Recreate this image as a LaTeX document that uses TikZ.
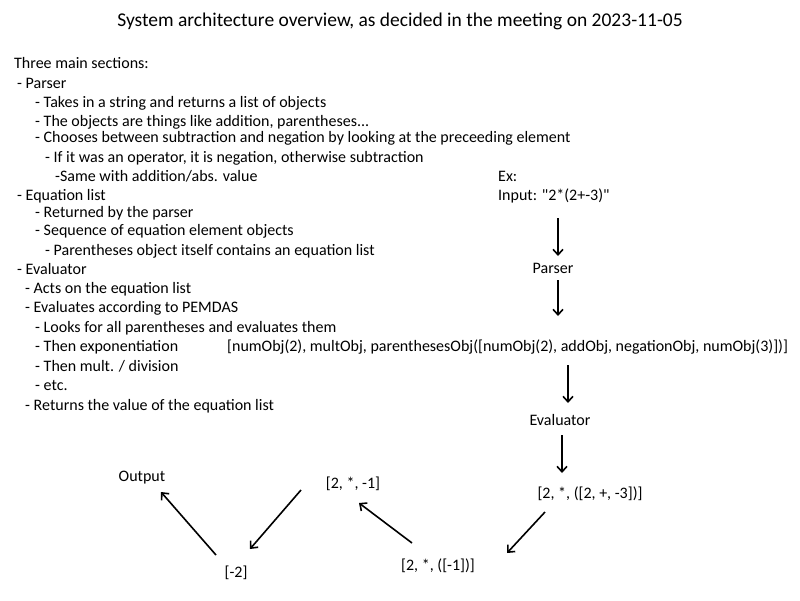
\documentclass[tikz,border=0pt]{standalone}
\usepackage{fontspec}
\setmainfont{Carlito}[Ligatures=TeXOff]
\usetikzlibrary{arrows.meta}
\begin{document}
\begin{tikzpicture}[x=1pt,y=-1pt,
  txt/.style={anchor=base west,inner sep=0pt,font=\fontsize{16}{19}\selectfont},
  ctxt/.style={anchor=base,inner sep=0pt,font=\fontsize{16}{19}\selectfont},
  arr/.style={line width=1.6pt,-{Straight Barb[length=5.5pt,width=10pt,line width=1.6pt]}}]
\useasboundingbox (0,0) rectangle (800,600);
\node[anchor=base,inner sep=0pt,font=\fontsize{19.5}{23}\selectfont] (title) at (400,26) {System architecture overview, as decided in the meeting on 2023-11-05};
% left notes
\node[txt] (l1) at (14,68) {Three main sections:};
\node[txt] (l2) at (17,88) {- Parser};
\node[txt] (l3) at (35,107) {- Takes in a string and returns a list of objects};
\node[txt] (l4) at (35,126) {- The objects are things like addition, parentheses...};
\node[txt] (l5) at (35,142) {- Chooses between subtraction and negation by looking at the preceeding element};
\node[txt] (l6) at (45,162) {- If it was an operator, it is negation, otherwise subtraction};
\node[txt] (l7) at (55,181) {-Same with addition/abs. value};
\node[txt] (l8) at (17,200) {- Equation list};
\node[txt] (l9) at (35,217) {- Returned by the parser};
\node[txt] (l10) at (35,235) {- Sequence of equation element objects};
\node[txt] (l11) at (45,255) {- Parentheses object itself contains an equation list};
\node[txt] (l12) at (17,274) {- Evaluator};
\node[txt] (l13) at (25,293) {- Acts on the equation list};
\node[txt] (l14) at (25,312) {- Evaluates according to PEMDAS};
\node[txt] (l15) at (35,332) {- Looks for all parentheses and evaluates them};
\node[txt] (l16) at (35,351) {- Then exponentiation};
\node[txt] (l17) at (35,371) {- Then mult. / division};
\node[txt] (l18) at (35,390) {- etc.};
\node[txt] (l19) at (25,410) {- Returns the value of the equation list};
% example flow
\node[txt] (ex) at (498,181) {Ex:};
\node[txt] (input) at (498,200) {Input: "2*(2+-3)"};
\node[ctxt] (parser) at (553,273) {Parser};
\node[txt] (objs) at (227,351) {[numObj(2), multObj, parenthesesObj([numObj(2), addObj, negationObj, numObj(3)])]};
\node[ctxt] (evaluator) at (560,425) {Evaluator};
\node[ctxt] (s1) at (590,498) {[2, *, ([2, +, -3])]};
\node[ctxt] (s2) at (438,570) {[2, *, ([-1])]};
\node[ctxt] (s3) at (353,488) {[2, *, -1]};
\node[ctxt] (s4) at (236,577) {[-2]};
\node[ctxt] (out) at (142,481) {Output};
\coordinate (a1s) at (558,218); \coordinate (a1e) at (558,256);
\coordinate (a2s) at (558,280); \coordinate (a2e) at (558,316);
\coordinate (a3s) at (568,365); \coordinate (a3e) at (568,403);
\coordinate (a4s) at (562,435); \coordinate (a4e) at (562,473);
\coordinate (a5s) at (545,512); \coordinate (a5e) at (507,553);
\coordinate (a6s) at (412,543); \coordinate (a6e) at (359,503);
\coordinate (a7s) at (301,490); \coordinate (a7e) at (250,549);
\coordinate (a8s) at (216,555); \coordinate (a8e) at (161,492);
\draw[arr] (a1s) -- (a1e);
\draw[arr] (a2s) -- (a2e);
\draw[arr] (a3s) -- (a3e);
\draw[arr] (a4s) -- (a4e);
\draw[arr] (a5s) -- (a5e);
\draw[arr] (a6s) -- (a6e);
\draw[arr] (a7s) -- (a7e);
\draw[arr] (a8s) -- (a8e);
\end{tikzpicture}
\end{document}
